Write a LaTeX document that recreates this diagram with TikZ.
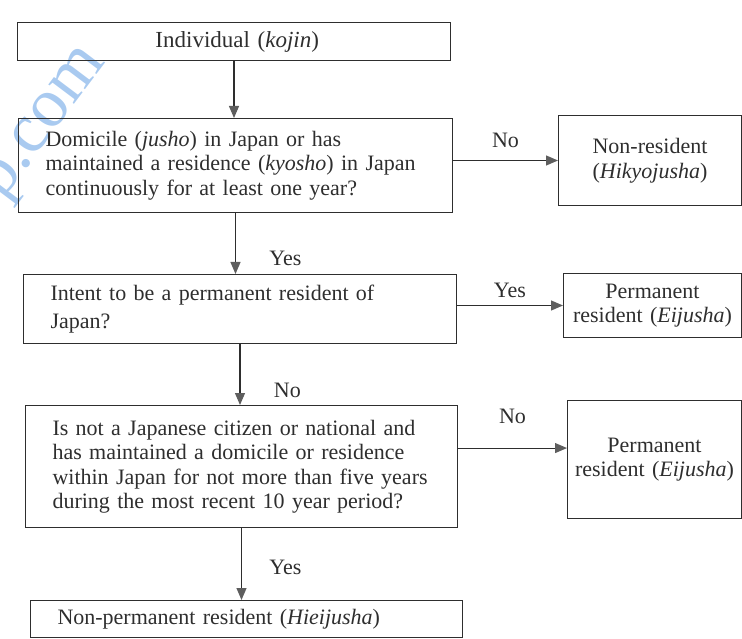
\documentclass[tikz,border=0pt]{standalone}
\usepackage{fontspec}
\setmainfont{Liberation Serif}
\usetikzlibrary{positioning,arrows.meta,calc}
\definecolor{ink}{HTML}{2E2E2E}
\definecolor{muted}{HTML}{5E5E5E}
\definecolor{marca}{HTML}{A9CAF0}
\tikzset{
  caja/.style={draw=ink,line width=1pt,anchor=north west,inner xsep=27pt,inner ysep=0pt,text=ink,
    font=\fontsize{22}{24.5}\selectfont},
  flecha/.style={-{Triangle[length=12pt,width=10pt,color=muted]},line width=1.1pt,color=ink},
  etiqueta/.style={font=\fontsize{22}{24}\selectfont,text=ink},
  marcaagua/.style={text=marca,font=\fontsize{70}{70}\selectfont},
}
\begin{document}
\begin{tikzpicture}[x=1pt,y=-1pt]
  \useasboundingbox (0,0) rectangle (742,639);
  % marca de agua del escaneo
  \node[marcaagua,rotate=53] (marca) at (47,126) {p.com};
  \newcommand{\caja}[6]{% #1 nombre, #2 esquina sup. izq., #3 ancho de texto, #4 alto, #5 opciones, #6 texto
    \node[caja,text width=#3,minimum height=#4,#5] (#1) at #2 {#6};}
  % columna de preguntas
  \caja{individuo}{(17,22)}{379pt}{38pt}{align=left,font=\fontsize{23}{25}\selectfont}{\hspace*{111pt}Individual (\textit{kojin})}
  \caja{domicilio}{(18,118)}{380pt}{94pt}{align=left}{Domicile (\textit{jusho}) in Japan or has\\
    maintained a residence (\textit{kyosho}) in Japan\\ continuously for at least one year?}
  \caja{intencion}{(23,274)}{379pt}{69pt}{align=left,font=\fontsize{22}{28}\selectfont}{Intent to be a permanent resident of\\ Japan?}
  \caja{ciudadano}{(25,405)}{378pt}{122pt}{align=left}{Is not a Japanese citizen or national and\\
    has maintained a domicile or residence\\ within Japan for not more than five years\\
    during the most recent 10 year period?}
  \caja{nopermanente}{(30,600)}{378pt}{37pt}{align=left}{Non-permanent resident (\textit{Hieijusha})}
  % columna de resultados
  \caja{noresidente}{(558,115)}{163pt}{90pt}{align=center,inner xsep=10pt}{Non-resident\\ (\textit{Hikyojusha})}
  \caja{permanente}{(563,273)}{168pt}{64pt}{align=center,inner xsep=5pt}{Permanent\\ resident (\textit{Eijusha})}
  \caja{permanentedos}{(567,400)}{164pt}{118pt}{align=center,inner xsep=5pt}{Permanent\\ resident (\textit{Eijusha})}
  % flechas
  \draw[flecha] (individuo.south) -- (individuo.south |- domicilio.north);
  \draw[flecha] (domicilio.east |- noresidente.west) -- (noresidente.west)
    node[etiqueta,midway,above=9pt] {No};
  \draw[flecha] (domicilio.south) -- (domicilio.south |- intencion.north)
    node[etiqueta,pos=0.74,right=30pt] {Yes};
  \draw[flecha] (intencion.east |- permanente.west) -- (permanente.west)
    node[etiqueta,midway,above=4pt] {Yes};
  \draw[flecha] (intencion.south) -- (intencion.south |- ciudadano.north)
    node[etiqueta,pos=0.76,right=30pt] {No};
  \draw[flecha] ($(ciudadano.north east)!0.35!(ciudadano.south east)$) coordinate (salida)
    -- (salida -| permanentedos.west) node[etiqueta,midway,above=20pt] {No};
  \draw[flecha] (ciudadano.south) -- (ciudadano.south |- nopermanente.north)
    node[etiqueta,pos=0.55,right=24pt] {Yes};
\end{tikzpicture}
\end{document}
